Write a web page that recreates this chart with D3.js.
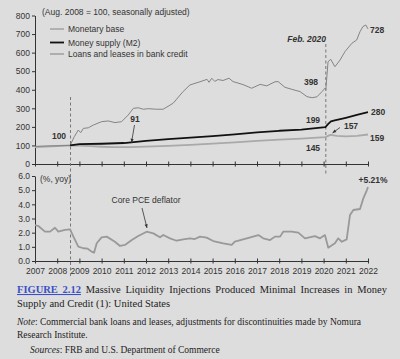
<!DOCTYPE html>
<html>
<head>
<meta charset="utf-8">
<script src="https://cdn.jsdelivr.net/npm/d3@7"></script>
<style>
  body { margin: 0; background: #dddddd; }
  svg { display: block; }
</style>
</head>
<body>
<script>
// years on the axis
const years = d3.range(2007, 2023);

// index values, Aug. 2008 = 100  [year, value]
const monetaryBase = [
  [2007.0, 95], [2007.5, 97], [2008.0, 98], [2008.58, 100], [2008.77, 147], [2008.95, 183],
  [2009.06, 169], [2009.18, 192], [2009.4, 195], [2009.63, 210], [2010.0, 228], [2010.3, 232],
  [2010.6, 223], [2010.9, 228], [2011.2, 264], [2011.43, 300], [2011.65, 303], [2011.88, 295],
  [2012.1, 298], [2012.48, 295], [2012.77, 295], [2013.22, 327], [2013.67, 390], [2013.98, 426],
  [2014.43, 443], [2014.75, 456], [2014.84, 440], [2014.96, 462], [2015.1, 445], [2015.24, 455],
  [2015.47, 450], [2015.74, 462], [2015.92, 444], [2016.37, 428], [2016.76, 408], [2017.14, 429],
  [2017.44, 421], [2017.81, 443], [2017.95, 444], [2018.26, 413], [2018.58, 402], [2018.94, 390],
  [2019.25, 363], [2019.48, 357], [2019.7, 362], [2019.93, 390], [2020.06, 408], [2020.1, 400],
  [2020.2, 551], [2020.32, 564], [2020.51, 524], [2020.74, 560], [2020.96, 605], [2021.27, 650],
  [2021.49, 668], [2021.64, 713], [2021.77, 740], [2021.9, 749], [2022.0, 728]
];
const moneySupply = [
  [2008.58, 100], [2009.0, 107], [2010.0, 109], [2011.0, 113], [2012.0, 125], [2013.0, 134],
  [2014.0, 142], [2015.0, 150], [2016.0, 160], [2017.0, 170], [2018.0, 179], [2019.0, 185],
  [2020.08, 199], [2020.2, 215], [2020.33, 230], [2020.5, 235], [2021.0, 249], [2021.5, 264],
  [2022.0, 280]
];
const bankLoans = [
  [2007.0, 91], [2007.5, 94], [2008.0, 97], [2008.58, 100], [2009.0, 99], [2009.5, 96],
  [2010.0, 93], [2010.5, 91], [2011.2, 91], [2012.0, 94], [2013.0, 98], [2014.0, 103],
  [2015.0, 110], [2016.0, 117], [2017.0, 125], [2018.0, 131], [2019.0, 137], [2020.08, 145],
  [2020.3, 157], [2020.6, 151], [2021.0, 149], [2021.5, 152], [2022.0, 159]
];
// core PCE deflator, % yoy
const corePce = [
  [2007.0, 2.54], [2007.15, 2.47], [2007.45, 2.07], [2007.68, 2.07], [2007.9, 2.35], [2008.05, 2.07],
  [2008.35, 2.19], [2008.58, 2.24], [2008.73, 1.72], [2008.95, 1.01], [2009.18, 0.9], [2009.36, 0.88],
  [2009.55, 0.66], [2009.66, 0.59], [2009.78, 1.25], [2010.0, 1.67], [2010.23, 1.72], [2010.6, 1.36],
  [2010.83, 1.06], [2011.05, 1.13], [2011.36, 1.48], [2011.65, 1.76], [2012.03, 2.07], [2012.33, 1.95],
  [2012.63, 1.67], [2012.78, 1.84], [2013.08, 1.6], [2013.38, 1.43], [2013.68, 1.53], [2013.98, 1.6],
  [2014.2, 1.55], [2014.43, 1.72], [2014.73, 1.65], [2015.03, 1.41], [2015.48, 1.25], [2015.86, 1.13],
  [2016.0, 1.36], [2016.54, 1.6], [2017.06, 1.83], [2017.28, 1.6], [2017.59, 1.48], [2017.81, 1.72],
  [2018.04, 1.72], [2018.18, 2.07], [2018.56, 2.07], [2018.86, 2.0], [2019.16, 1.6], [2019.61, 1.76],
  [2019.84, 1.6], [2020.06, 1.83], [2020.21, 0.94], [2020.51, 1.25], [2020.66, 1.6], [2020.82, 1.36],
  [2021.04, 1.53], [2021.19, 3.25], [2021.34, 3.6], [2021.64, 3.67], [2021.79, 4.42], [2021.95, 5.01],
  [2022.0, 5.21]
];

const topTicks = [0, 100, 200, 300, 400, 500, 600, 700, 800];
const bottomTicks = [0, 1, 2, 3, 4, 5, 6];
const legendNames = ["Monetary base", "Money supply (M2)", "Loans and leases in bank credit"];

const width = 400, height = 359;
const sans = "Liberation Sans, Arial, sans-serif";
const serif = "Liberation Serif, Times New Roman, serif";

const svg = d3.select("body").append("svg")
  .attr("width", width).attr("height", height)
  .style("font-family", sans);

const x = d3.scaleLinear().domain([2007, 2022]).range([35, 368]);
const yTop = d3.scaleLinear().domain([0, 800]).range([164, 15.5]);
const yBot = d3.scaleLinear().domain([0, 6]).range([261, 176]);

/* ejes */
function styleAxis(g) {
  g.select(".domain").attr("stroke", "#333");
  g.selectAll(".tick line").attr("stroke", "#333");
  g.selectAll(".tick text").attr("fill", "#333").style("font-size", "8.5px").style("font-family", sans);
}

svg.append("g").attr("transform", "translate(35,0)")
  .call(d3.axisLeft(yTop).tickValues(topTicks).tickSize(3).tickSizeOuter(0).tickPadding(2))
  .call(styleAxis);

svg.append("g").attr("transform", "translate(35,0)")
  .call(d3.axisLeft(yBot).tickValues(bottomTicks).tickSize(3).tickSizeOuter(0).tickPadding(2)
    .tickFormat(d3.format(".1f")))
  .call(styleAxis);

svg.append("g").attr("transform", "translate(0,164)")
  .call(d3.axisBottom(x).tickValues(years).tickSize(2.5).tickSizeOuter(0).tickFormat(""))
  .call(styleAxis)
  .call(g => g.selectAll(".tick line").attr("y1", -2.5));

svg.append("g").attr("transform", "translate(0,261)")
  .call(d3.axisBottom(x).tickValues(years).tickSize(2.5).tickSizeOuter(0).tickPadding(4).tickFormat(d3.format("d")))
  .call(styleAxis)
  .call(g => g.selectAll(".tick line").attr("y1", -2.5));

/* lineas punteadas */
svg.append("line").attr("x1", x(2008.6)).attr("x2", x(2008.6))
  .attr("y1", 97).attr("y2", 277)
  .attr("stroke", "#777").attr("stroke-width", 1).attr("stroke-dasharray", "3,2.5");
svg.append("line").attr("x1", x(2020.1)).attr("x2", x(2020.1))
  .attr("y1", 44).attr("y2", 174)
  .attr("stroke", "#777").attr("stroke-width", 1).attr("stroke-dasharray", "3,2.5");

/* series */
const lineTop = d3.line().x(d => x(d[0])).y(d => yTop(d[1]));
const lineBot = d3.line().x(d => x(d[0])).y(d => yBot(d[1]));

const series = [
  { data: bankLoans, color: "#a9a9a9", w: 1.8 },
  { data: monetaryBase, color: "#848484", w: 1 },
  { data: moneySupply, color: "#111", w: 1.8 }
];
series.forEach(s => {
  svg.append("path").datum(s.data).attr("d", lineTop)
    .attr("fill", "none").attr("stroke", s.color).attr("stroke-width", s.w)
    .attr("stroke-linejoin", "round");
});

svg.append("path").datum(corePce).attr("d", lineBot)
  .attr("fill", "none").attr("stroke", "#999").attr("stroke-width", 1.8)
  .attr("stroke-linejoin", "round");

/* leyenda */
const legendStyles = [series[1], series[2], series[0]];
legendNames.forEach((name, i) => {
  const ly = [29, 42.5, 54][i];
  svg.append("line").attr("x1", 50).attr("x2", 64).attr("y1", ly).attr("y2", ly)
    .attr("stroke", legendStyles[i].color).attr("stroke-width", legendStyles[i].w);
  svg.append("text").attr("x", 68).attr("y", ly + 3).text(name)
    .style("font-size", "8.5px").attr("fill", "#333");
});

svg.append("text").attr("x", 42).attr("y", 15).text("(Aug. 2008 = 100, seasonally adjusted)")
  .style("font-size", "8.5px").attr("fill", "#333");
svg.append("text").attr("x", 40).attr("y", 182).text("(%, yoy)")
  .style("font-size", "8.5px").attr("fill", "#333");

/* etiquetas */
const labels = [
  { t: "100", x: 59, y: 139, a: "middle" },
  { t: "91", x: 135, y: 122, a: "middle" },
  { t: "398", x: 311, y: 85, a: "middle" },
  { t: "199", x: 313, y: 123, a: "middle" },
  { t: "145", x: 313, y: 151, a: "middle" },
  { t: "157", x: 351, y: 129, a: "middle" },
  { t: "280", x: 371, y: 115, a: "start" },
  { t: "159", x: 370, y: 141, a: "start" },
  { t: "728", x: 370, y: 33, a: "start" },
  { t: "+5.21%", x: 373, y: 183, a: "middle" }
];
labels.forEach(l => {
  svg.append("text").attr("x", l.x).attr("y", l.y).attr("text-anchor", l.a)
    .text(l.t).style("font-size", "8.5px").style("font-weight", "bold").attr("fill", "#333");
});
svg.append("text").attr("x", 326).attr("y", 42).attr("text-anchor", "end")
  .text("Feb. 2020").style("font-size", "8.5px").style("font-weight", "bold")
  .style("font-style", "italic").attr("fill", "#333");
svg.append("text").attr("x", 146).attr("y", 203).attr("text-anchor", "middle")
  .text("Core PCE deflator").style("font-size", "8.5px").attr("fill", "#333");

/* flechas */
const arrows = [[[134.5, 125], [131.5, 142.5]], [[340, 127.5], [332.5, 133]], [[142, 208], [147, 228]]];
arrows.forEach(a => {
  const [p0, p1] = a;
  svg.append("line").attr("x1", p0[0]).attr("y1", p0[1]).attr("x2", p1[0]).attr("y2", p1[1])
    .attr("stroke", "#333").attr("stroke-width", 0.8);
  const ang = Math.atan2(p1[1] - p0[1], p1[0] - p0[0]);
  const L = 4, s = 0.4;
  const pts = [p1,
    [p1[0] - L * Math.cos(ang - s), p1[1] - L * Math.sin(ang - s)],
    [p1[0] - L * Math.cos(ang + s), p1[1] - L * Math.sin(ang + s)]];
  svg.append("polygon").attr("points", pts.map(p => p.join(",")).join(" ")).attr("fill", "#333");
});

/* pie de figura */
const cap1 = svg.append("text").attr("x", 17).attr("y", 293)
  .style("font-family", serif).style("font-size", "10.5px").attr("fill", "#222");
cap1.append("tspan").text("FIGURE 2.12").attr("fill", "#3a4fc8").style("font-weight", "bold")
  .style("text-decoration", "underline");
cap1.append("tspan").text(" Massive Liquidity Injections Produced Minimal Increases in Money");
{
  const len = cap1.node().getComputedTextLength();
  const spaces = 9;
  cap1.attr("word-spacing", (370 - len) / spaces);
}
svg.append("text").attr("x", 17).attr("y", 306.5)
  .style("font-family", serif).style("font-size", "10.5px").attr("fill", "#222")
  .text("Supply and Credit (1): United States");

const note = svg.append("text").attr("x", 17).attr("y", 325)
  .style("font-family", serif).style("font-size", "9.5px").attr("fill", "#222");
note.append("tspan").text("Note").style("font-style", "italic");
note.append("tspan").text(": Commercial bank loans and leases, adjustments for discontinuities made by Nomura");
svg.append("text").attr("x", 17).attr("y", 338)
  .style("font-family", serif).style("font-size", "9.5px").attr("fill", "#222")
  .text("Research Institute.");
const src = svg.append("text").attr("x", 30).attr("y", 352.5)
  .style("font-family", serif).style("font-size", "9.5px").attr("fill", "#222");
src.append("tspan").text("Sources").style("font-style", "italic");
src.append("tspan").text(": FRB and U.S. Department of Commerce");
</script>
</body>
</html>
